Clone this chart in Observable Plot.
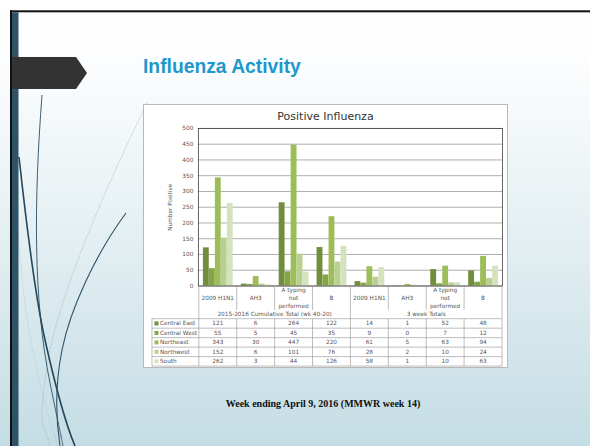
<!DOCTYPE html>
<html><head><meta charset="utf-8">
<script src="https://cdn.jsdelivr.net/npm/d3@7"></script>
<script src="https://cdn.jsdelivr.net/npm/@observablehq/plot@0.6"></script>
<style>
html,body{margin:0;padding:0;}
body{width:590px;height:446px;overflow:hidden;position:relative;background:linear-gradient(to bottom,#ffffff 0%,#fcfdfe 14%,#e9f2f5 45%,#c4dde4 100%);}
#deco{position:absolute;left:0;top:0;}
#title{position:absolute;left:143px;top:57px;font:bold 19.3px/19px "Liberation Sans",Arial,sans-serif;color:#1e98cc;white-space:nowrap;}
#panel{position:absolute;left:143px;top:104px;width:363px;height:262px;background:#fff;border:1px solid #b8b8b8;}
#ptitle{position:absolute;left:0;width:100%;top:5.7px;text-align:center;font:11px/11px "DejaVu Sans",sans-serif;color:#333;}
#chart{position:absolute;left:-1px;top:-1px;}
#caption{position:absolute;left:0;width:646px;top:398.6px;text-align:center;font:bold 10px/10px "Liberation Serif","Times New Roman",serif;color:#111;white-space:nowrap;}
</style></head>
<body>
<svg id="deco" width="590" height="446">
  <g fill="none">
    <path d="M147,103 C100,200 57,300 47,367 S44,420 50,446" stroke="#9fb3bd" stroke-width="0.7" stroke-dasharray="1.2 1"/>
    <path d="M18,230 C24,320 36,380 58,446" stroke="#a9bcc5" stroke-width="0.6" stroke-dasharray="1 1"/>
    <path d="M42,95 C34,200 33,300 50,383 S60,430 63,446" stroke="#3d6074" stroke-width="1"/>
    <path d="M19,157 C27,230 36,300 45,340 S64,420 75,446" stroke="#24475b" stroke-width="1.6"/>
    <path d="M126,213 C95,255 70,310 62,350 S56,420 60,446" stroke="#2e5367" stroke-width="1.1"/>
  </g>
  <rect x="10" y="10.3" width="580" height="2" fill="#111"/>
  <rect x="10" y="10.3" width="2" height="436" fill="#111"/>
  <rect x="12" y="12.3" width="6.5" height="434" fill="#2e5367"/>
  <polygon points="12,57 76,57 87,73 76,89 12,89" fill="#333"/>
</svg>
<div id="title">Influenza Activity</div>
<div id="panel"><div id="ptitle">Positive Influenza</div><div id="chart"></div></div>
<div id="caption">Week ending April 9, 2016 (MMWR week 14)</div>
<script>
// ---- data ----
const categories = ["2009 H1N1", "AH3", "A typing not performed", "B"];
const categoryLines = [["2009 H1N1"], ["AH3"], ["A typing", "not", "performed"], ["B"]];
const periods = ["2015-2016 Cumulative Total (wk 40-20)", "3 week Totals"];
const regions = ["Central East", "Central West", "Northeast", "Northwest", "South"];
const centralEast = [121, 6, 264, 122, 14, 1, 52, 48];
const centralWest = [55, 5, 45, 35, 9, 0, 7, 12];
const northeast   = [343, 30, 447, 220, 61, 5, 63, 94];
const northwest   = [152, 6, 101, 76, 28, 2, 10, 24];
const south       = [262, 3, 44, 126, 58, 1, 10, 63];
const regionColors = ["#718e3c", "#84a642", "#9dbd59", "#b8d090", "#d5e3bd"];
const yTicks = [0, 50, 100, 150, 200, 250, 300, 350, 400, 450, 500];

// ---- derived table ----
const series = [centralEast, centralWest, northeast, northwest, south];
const colKeys = [];
const colCat = {};
periods.forEach((p, pi) => categories.forEach((c, ci) => {
  const k = pi + "|" + c; colKeys.push(k); colCat[k] = ci;
}));
const rows = [];
series.forEach((vals, ri) => vals.forEach((v, j) => rows.push({region: regions[ri], ri, col: colKeys[j], value: v})));

const W = 365, H = 264, mL = 55, mR = 5, mT = 24, mB = 82;
const bw = (W - mL - mR) / colKeys.length;
const barW = 6, pad = (bw - barW * regions.length) / 2;

function tableMark(index, scales, values, dimensions) {
  const x = scales.x;
  const b = x.bandwidth();
  const {width, height, marginLeft, marginRight, marginBottom} = dimensions;
  const right = width - marginRight;
  const top = height - marginBottom;
  const catRowH = 24.5, groupRowH = 8.8, rowH = 9.5, legendLeft = 9;
  const catBottom = top + catRowH, dataTop = catBottom + groupRowH, bottom = dataTop + rowH * regions.length;
  const lc = "#a0a0a0";
  const g = d3.create("svg:g").attr("font-size", 5.8).attr("fill", "#555").attr("font-family", "DejaVu Sans, sans-serif");
  const edges = colKeys.map(k => x(k)).concat([x(colKeys[colKeys.length - 1]) + b]);
  const vline = (ex, y1, y2) => g.append("line").attr("x1", ex).attr("x2", ex).attr("y1", y1).attr("y2", y2).attr("stroke", lc).attr("stroke-width", 0.7);
  edges.forEach((ex, j) => {
    if (j % categories.length === 0) vline(ex, top, bottom);
    else { vline(ex, top, catBottom); vline(ex, dataTop, bottom); }
  });
  vline(legendLeft, dataTop, bottom);
  for (let r = 0; r <= regions.length; r++) {
    const yy = dataTop + r * rowH;
    g.append("line").attr("x1", legendLeft).attr("x2", right).attr("y1", yy).attr("y2", yy).attr("stroke", lc).attr("stroke-width", 0.7);
  }
  colKeys.forEach(k => {
    const lines = categoryLines[colCat[k]];
    const cx = x(k) + b / 2;
    const cy = top + catRowH / 2;
    lines.forEach((t, li) => {
      g.append("text").attr("x", cx).attr("y", cy + (li - (lines.length - 1) / 2) * 8.2).attr("dy", "0.35em").attr("text-anchor", "middle").text(t);
    });
  });
  periods.forEach((p, pi) => {
    const a = edges[pi * categories.length], z = edges[(pi + 1) * categories.length];
    g.append("text").attr("x", (a + z) / 2).attr("y", catBottom + groupRowH / 2).attr("dy", "0.35em").attr("text-anchor", "middle").text(p);
  });
  series.forEach((vals, ri) => {
    const cy = dataTop + (ri + 0.5) * rowH;
    g.append("rect").attr("x", legendLeft + 2.5).attr("y", cy - 2).attr("width", 4).attr("height", 4).attr("fill", regionColors[ri]);
    g.append("text").attr("x", legendLeft + 8).attr("y", cy).attr("dy", "0.35em").attr("text-anchor", "start").text(regions[ri]);
    vals.forEach((v, j) => {
      g.append("text").attr("x", x(colKeys[j]) + b / 2).attr("y", cy).attr("dy", "0.35em").attr("text-anchor", "middle").text(v);
    });
  });
  return g.node();
}

const barMarks = regions.map((r, i) => Plot.barY(rows.filter(d => d.ri === i), {
  x: "col", y: "value", fill: "region",
  insetLeft: pad + i * barW, insetRight: bw - pad - (i + 1) * barW
}));

const chart = Plot.plot({
  width: W, height: H,
  marginLeft: mL, marginRight: mR, marginTop: mT, marginBottom: mB,
  style: {fontFamily: "DejaVu Sans, sans-serif", fontSize: "5.8px", color: "#555", background: "transparent", overflow: "visible"},
  x: {domain: colKeys, padding: 0, axis: null},
  y: {domain: [0, 500], ticks: yTicks, tickSize: 0, tickPadding: 5, label: "Number Positive", labelAnchor: "center", labelOffset: 31, labelArrow: "none"},
  color: {domain: regions, range: regionColors},
  marks: [
    Plot.ruleY(yTicks, {stroke: "#8a8a8a", strokeWidth: 0.7}),
    ...barMarks,
    Plot.frame({stroke: "#404040", strokeWidth: 0.8}),
    tableMark
  ]
});
document.getElementById("chart").appendChild(chart);
</script>
</body></html>
